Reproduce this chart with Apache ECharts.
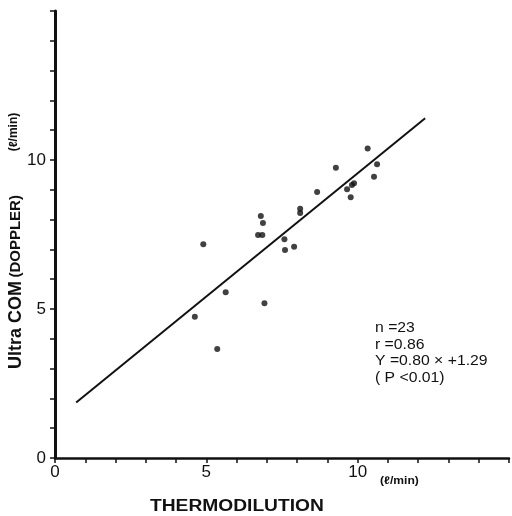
<!DOCTYPE html>
<html><head><meta charset="utf-8">
<script src="https://cdn.jsdelivr.net/npm/echarts@6/dist/echarts.min.js"></script>
<style>html,body{margin:0;padding:0;background:#fff}#c{width:512px;height:516px}</style>
</head><body><div id="c"></div>
<script>
var thermodilution = [10.33, 9.28, 10.64, 10.54, 9.88, 9.81, 9.65, 9.77, 8.66, 8.10, 8.10, 6.80, 6.87, 6.71, 6.85, 4.90, 7.58, 7.60, 7.90, 5.64, 6.92, 4.62, 5.36];
var doppler =        [10.39, 9.74, 9.86, 9.44, 9.22, 9.16, 9.02, 8.75, 8.93, 8.36, 8.22, 8.12, 7.89, 7.48, 7.48, 7.17, 7.34, 6.98, 7.09, 5.56, 5.19, 4.74, 3.66];
var regLineX = [0.70, 12.23];
var regLineY = [1.86, 11.40];
var tickLabels = [0, 5, 10];
var statsLines = ['n =23', 'r =0.86', 'Y =0.80 × +1.29', '( P <0.01)'];

var FONT = "'Liberation Sans',Arial,sans-serif";
var pts = thermodilution.map(function(x, i){ return [x, doppler[i]]; });
var line = regLineX.map(function(x, i){ return [x, regLineY[i]]; });
function lbl(v){ return tickLabels.indexOf(v) >= 0 ? String(v) : ''; }

var chart = echarts.init(document.getElementById('c'), null, {renderer:'canvas'});
chart.setOption({
  animation: false,
  backgroundColor: '#fff',
  grid: {left: 55, top: 11, right: -5, bottom: 58},
  xAxis: {
    type: 'value', min: 0, max: 15, interval: 1,
    axisLine: {lineStyle: {color: '#111', width: 2.5}},
    axisTick: {length: 5, lineStyle: {color: '#111', width: 1.5}},
    splitLine: {show: false},
    axisLabel: {formatter: lbl, color: '#111', fontFamily: FONT, fontSize: 17, margin: 6}
  },
  yAxis: {
    type: 'value', min: 0, max: 15, interval: 1,
    axisLine: {lineStyle: {color: '#111', width: 3}},
    axisTick: {length: 5, lineStyle: {color: '#111', width: 1.5}},
    splitLine: {show: false},
    axisLabel: {formatter: lbl, color: '#111', fontFamily: FONT, fontSize: 17, margin: 9}
  },
  series: [
    {type: 'line', data: line, showSymbol: false, lineStyle: {color: '#111', width: 2}, z: 2},
    {type: 'scatter', data: pts, symbolSize: 6, itemStyle: {color: '#111'}, z: 3}
  ],
  graphic: [
    {type: 'text', left: 150, top: 499, scaleX: 1.2,
      style: {text: 'THERMODILUTION', font: 'bold 16px ' + FONT, fill: '#111'}},
    {type: 'text', left: 380, top: 475, scaleX: 1.1,
      style: {text: '(ℓ/min)', font: 'bold 11px ' + FONT, fill: '#111'}},
    {type: 'text', x: 16, y: 282, rotation: Math.PI/2,
      style: {text: '{a|Ultra COM} {b|(DOPPLER)}', align: 'center', verticalAlign: 'middle',
        rich: {a: {font: 'bold 18px Liberation Sans, Arial, sans-serif', fill: '#111'},
               b: {font: 'bold 15px Liberation Sans, Arial, sans-serif', fill: '#111'}}}},
    {type: 'text', x: 14, y: 132, rotation: Math.PI/2,
      style: {text: '(ℓ/min)', align: 'center', verticalAlign: 'middle', font: 'bold 12px ' + FONT, fill: '#111'}},
    {type: 'text', left: 375, top: 320, scaleX: 1.05,
      style: {text: statsLines.join('\n'), font: '15px ' + FONT, lineHeight: 16.5, fill: '#111'}}
  ]
});
</script></body></html>
